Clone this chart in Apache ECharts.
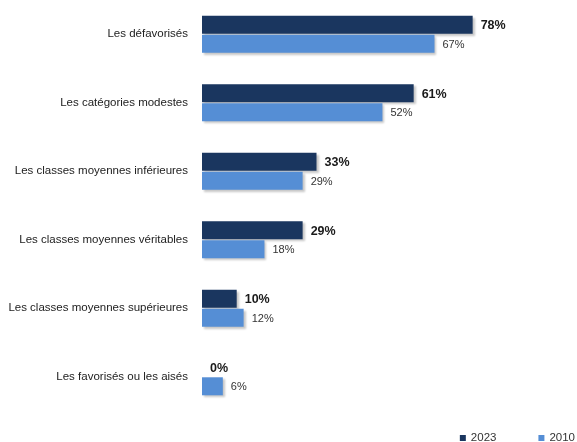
<!DOCTYPE html>
<html>
<head>
<meta charset="utf-8">
<script src="https://cdn.jsdelivr.net/npm/echarts@6/dist/echarts.min.js"></script>
<style>
  html, body { margin: 0; padding: 0; background: #fff; }
  #chart { width: 577px; height: 442px; }
</style>
</head>
<body>
<div id="chart"></div>
<script>
// Groups shown top to bottom
const categories = [
  'Les défavorisés',
  'Les catégories modestes',
  'Les classes moyennes inférieures',
  'Les classes moyennes véritables',
  'Les classes moyennes supérieures',
  'Les favorisés ou les aisés'
];
const values2023 = [78, 61, 33, 29, 10, 0];
const values2010 = [67, 52, 29, 18, 12, 6];

const FONT = '"Liberation Sans", "DejaVu Sans", sans-serif';
const barShadow = {
  shadowColor: 'rgba(0,0,0,0.22)',
  shadowBlur: 2,
  shadowOffsetX: 2,
  shadowOffsetY: 2
};

const chart = echarts.init(document.getElementById('chart'), null, { renderer: 'canvas' });
chart.setOption({
  animation: false,
  backgroundColor: '#ffffff',
  legend: {
    right: -3,
    bottom: -7,
    itemWidth: 6,
    itemHeight: 6,
    itemGap: 42,
    icon: 'rect',
    textStyle: { fontFamily: FONT, fontSize: 11.5, color: '#333' },
    data: ['2023', '2010']
  },
  grid: { left: 202, right: 28, top: 0, bottom: 31, containLabel: false },
  xAxis: {
    type: 'value',
    min: 0,
    max: 100,
    show: false
  },
  yAxis: {
    type: 'category',
    inverse: true,
    data: categories,
    axisLine: { show: false },
    axisTick: { show: false },
    axisLabel: {
      margin: 14,
      fontFamily: FONT,
      fontSize: 11.5,
      color: '#222'
    }
  },
  series: [
    {
      name: '2023',
      type: 'bar',
      data: values2023,
      barWidth: 18,
      barGap: '6%',
      itemStyle: Object.assign({ color: '#1a365f' }, barShadow),
      label: {
        show: true,
        position: 'right',
        distance: 8,
        formatter: '{c}%',
        fontFamily: FONT,
        fontSize: 12.5,
        fontWeight: 'bold',
        color: '#1a1a1a',
        offset: [0, 1]
      }
    },
    {
      name: '2010',
      type: 'bar',
      data: values2010,
      barWidth: 18,
      itemStyle: Object.assign({ color: '#558ed5' }, barShadow),
      label: {
        show: true,
        position: 'right',
        distance: 8,
        formatter: '{c}%',
        fontFamily: FONT,
        fontSize: 11,
        color: '#333',
        offset: [0, 1]
      }
    }
  ]
});
</script>
</body>
</html>
